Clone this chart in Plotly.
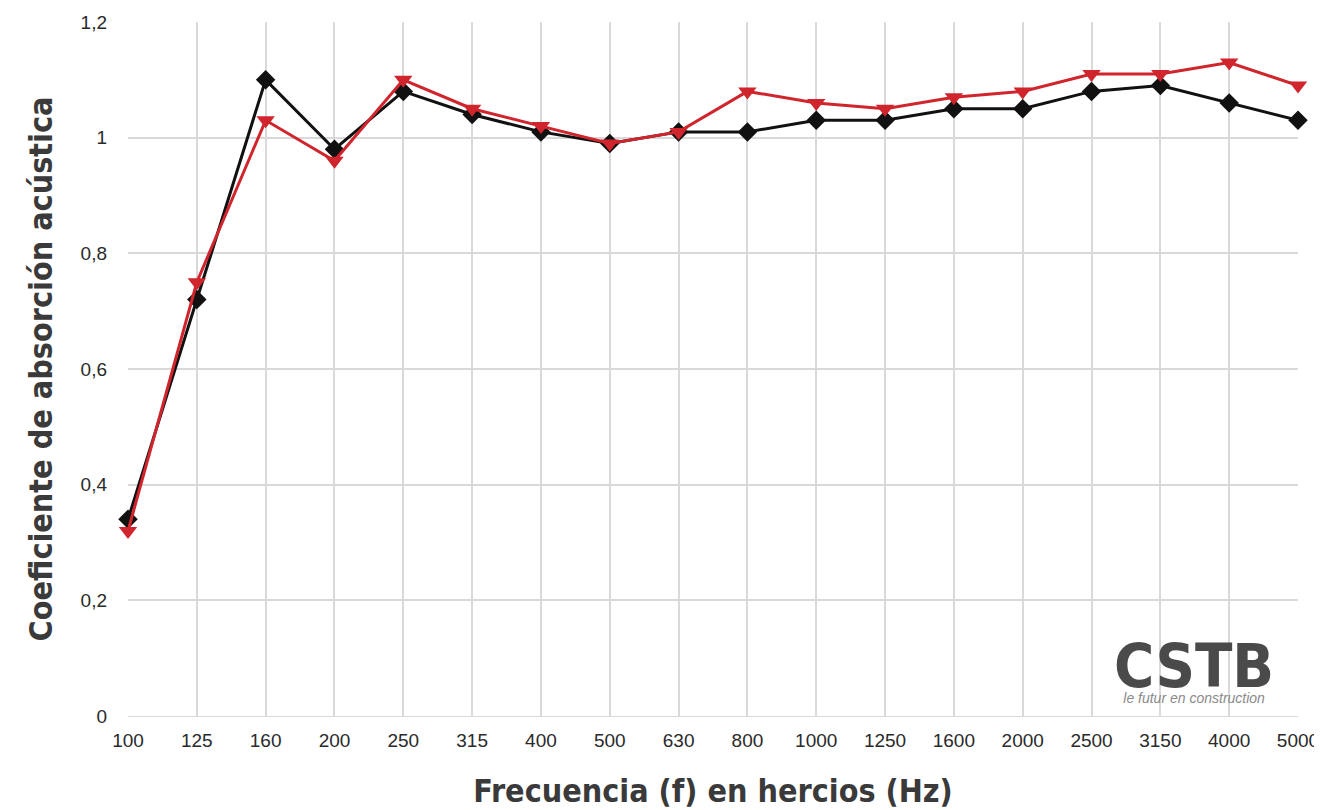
import plotly.graph_objects as go

freqs = ["100", "125", "160", "200", "250", "315", "400", "500", "630", "800",
         "1000", "1250", "1600", "2000", "2500", "3150", "4000", "5000"]
black_vals = [0.34, 0.72, 1.10, 0.98, 1.08, 1.04, 1.01, 0.99, 1.01, 1.01,
              1.03, 1.03, 1.05, 1.05, 1.08, 1.09, 1.06, 1.03]
red_vals = [0.32, 0.75, 1.03, 0.96, 1.10, 1.05, 1.02, 0.99, 1.01, 1.08,
            1.06, 1.05, 1.07, 1.08, 1.11, 1.11, 1.13, 1.09]
y_ticks = [0, 0.2, 0.4, 0.6, 0.8, 1.0, 1.2]
y_ticktext = ["0", "0,2", "0,4", "0,6", "0,8", "1", "1,2"]

fig = go.Figure()
fig.add_trace(go.Scatter(
    x=freqs, y=black_vals, mode="lines+markers",
    line=dict(color="#111111", width=3),
    marker=dict(symbol="diamond", size=15, color="#111111"),
    showlegend=False, cliponaxis=False))
fig.add_trace(go.Scatter(
    x=freqs, y=red_vals, mode="lines+markers",
    line=dict(color="#d0252d", width=3),
    marker=dict(symbol="triangle-down", size=16, color="#d0252d"),
    showlegend=False, cliponaxis=False))

title_font = dict(family="DejaVu Sans Condensed, DejaVu Sans", size=32,
                  color="#3a3a3a", weight="bold")

# page body has an 8px margin; the figure is sized so the plot area sits at
# x 128..1298, y 22..716 in the window
W, H = 1314, 802
L, R, T, B = 120, 24, 14, 94

fig.update_layout(
    width=W, height=H,
    margin=dict(l=L, r=R, t=T, b=B, autoexpand=False),
    paper_bgcolor="white", plot_bgcolor="white",
    font=dict(family="Liberation Sans, Arial", color="#333333"),
    xaxis=dict(
        type="category", range=[0, 17], automargin=False,
        showgrid=True, gridcolor="#d9d9d9", gridwidth=1.5,
        zeroline=False, showline=True, linecolor="#d9d9d9",
        ticks="", ticklabelstandoff=7, tickfont=dict(size=19, color="#2a2a2a"),
        title=dict(text="Frecuencia (f) en hercios (Hz)", font=title_font, standoff=34),
    ),
    yaxis=dict(
        range=[0, 1.2], tickvals=y_ticks, ticktext=y_ticktext, automargin=False,
        showgrid=True, gridcolor="#d9d9d9", gridwidth=1.5,
        zeroline=False, showline=False,
        ticks="", ticklabelstandoff=20,
        tickfont=dict(size=19, color="#2a2a2a"),
        title=dict(text="Coeficiente de absorción acústica", font=title_font, standoff=18),
    ),
)

plot_w = W - L - R
plot_h = H - T - B
def px(x): return (x - 8 - L) / plot_w
def py(y): return (8 + T + plot_h - y) / plot_h

fig.add_annotation(
    x=px(1194), y=py(668), xref="paper", yref="paper",
    text=("<span style='font-size:61px;font-weight:bold;font-family:DejaVu Sans Condensed, DejaVu Sans;"
          "color:#4a4a4a'>CSTB</span><br>"
          "<span style='font-size:14px;font-family:Liberation Sans Narrow, Liberation Sans;"
          "color:#8a8a8a'><i>le futur en construction</i></span>"),
    showarrow=False, xanchor="center", yanchor="middle", align="center",
    font=dict(family="Liberation Sans", size=12, color="#4a4a4a"))

fig.write_html("out.html")
